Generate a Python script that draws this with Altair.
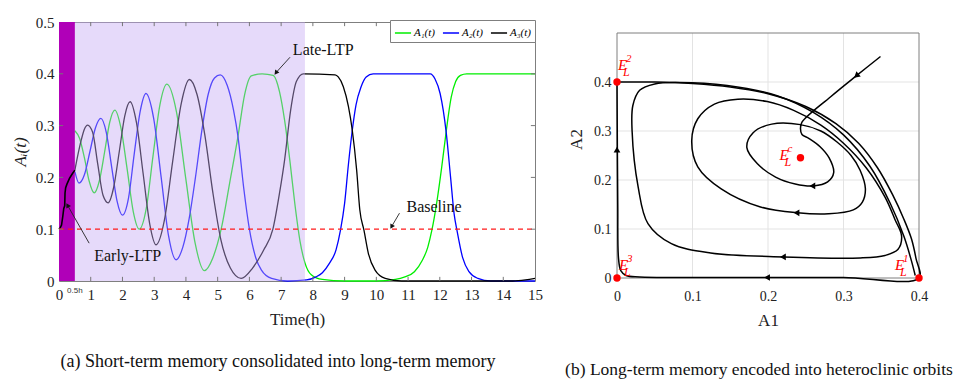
import altair as alt
import pandas as pd

SERIF = "Liberation Serif"

# ---------------- panel (a): time courses ----------------
A1_t = [0.5, 0.65, 0.8, 0.95, 1.11, 1.27, 1.44, 1.6, 1.76, 1.95, 2.15, 2.34, 2.53, 2.75, 2.96, 3.18, 3.40,
        3.70, 3.99, 4.29, 4.58, 4.85, 5.11, 5.38, 5.64, 5.85, 6.06, 6.4, 6.75, 6.95, 7.11, 7.28, 7.43, 7.6,
        7.75, 7.95, 8.3, 9.0, 10.0, 10.6, 10.9, 11.2, 11.45, 11.62, 11.75, 11.9, 12.06, 12.2, 12.36, 12.5,
        12.65, 12.85, 15.0]
A1_v = [0.29, 0.275, 0.238, 0.193, 0.17, 0.193, 0.25, 0.307, 0.33, 0.296, 0.215, 0.134, 0.10, 0.14, 0.24,
        0.34, 0.38, 0.327, 0.20, 0.073, 0.02, 0.045, 0.10, 0.19, 0.279, 0.36, 0.396, 0.40, 0.397, 0.365,
        0.31, 0.23, 0.15, 0.075, 0.035, 0.012, 0.003, 0.0, 0.0, 0.003, 0.008, 0.018, 0.04, 0.065, 0.098,
        0.15, 0.22, 0.288, 0.355, 0.385, 0.397, 0.40, 0.40]

A2_t = [0.5, 0.63, 0.8, 0.975, 1.15, 1.32, 1.49, 1.66, 1.83, 2.0, 2.19, 2.37, 2.56, 2.74, 2.98, 3.22, 3.45,
        3.69, 3.9, 4.1, 4.3, 4.5, 4.7, 4.9, 5.08, 5.3, 5.5, 5.64, 5.82, 6.0, 6.2, 6.38, 6.7, 7.2, 7.8, 8.1,
        8.3, 8.52, 8.73, 8.87, 9.0, 9.12, 9.24, 9.36, 9.52, 9.68, 9.9, 11.7, 11.85, 12.01, 12.2, 12.34,
        12.45, 12.55, 12.72, 12.92, 13.2, 13.6, 15.0]
A2_v = [0.211, 0.189, 0.205, 0.25, 0.296, 0.314, 0.287, 0.22, 0.154, 0.127, 0.16, 0.245, 0.328, 0.362,
        0.315, 0.2, 0.088, 0.041, 0.065, 0.12, 0.2, 0.29, 0.36, 0.392, 0.398, 0.378, 0.33, 0.279, 0.18,
        0.10, 0.045, 0.021, 0.005, 0.0, 0.002, 0.008, 0.016, 0.034, 0.06, 0.098, 0.15, 0.225, 0.29, 0.34,
        0.375, 0.394, 0.40, 0.40, 0.39, 0.362, 0.288, 0.2, 0.13, 0.095, 0.045, 0.018, 0.005, 0.0, 0.0]

A3_t = [0.5, 0.6, 0.7, 0.8, 0.9, 1.06, 1.22, 1.39, 1.55, 1.72, 1.9, 2.07, 2.24, 2.44, 2.65, 2.86, 3.06,
        3.32, 3.58, 3.85, 4.11, 4.35, 4.6, 4.85, 5.1, 5.4, 5.74, 6.1, 6.45, 6.74, 6.95, 7.11, 7.3, 7.48,
        7.7, 8.7, 8.8, 8.96, 9.12, 9.24, 9.38, 9.48, 9.61, 9.75, 9.96, 10.28, 10.8, 14.3, 14.7, 15.0]
A3_v = [0.214, 0.245, 0.272, 0.293, 0.301, 0.287, 0.226, 0.165, 0.151, 0.18, 0.25, 0.318, 0.346, 0.306,
        0.208, 0.11, 0.07, 0.117, 0.23, 0.342, 0.389, 0.36, 0.28, 0.17, 0.08, 0.025, 0.005, 0.025, 0.06,
        0.10, 0.17, 0.234, 0.33, 0.385, 0.40, 0.398, 0.394, 0.375, 0.337, 0.292, 0.214, 0.137, 0.098,
        0.053, 0.021, 0.005, 0.0, 0.0, 0.002, 0.005]

early_t = [0.0, 0.04, 0.08, 0.12, 0.15, 0.18, 0.19, 0.21, 0.25, 0.33, 0.42, 0.5]
early_v = [0.10, 0.103, 0.108, 0.125, 0.14, 0.145, 0.17, 0.18, 0.187, 0.198, 0.207, 0.214]

series_names = ["A\u2081(t)", "A\u2082(t)", "A\u2083(t)"]
series_colors = ["#00ee00", "#0000ff", "#000000"]

stim_start, stim_end = [0.0], [0.5]
window_start, window_end = [0.5], [7.75]
baseline_level = [0.1]

x_ticks_a = list(range(16))
y_ticks_a = [0, 0.1, 0.2, 0.3, 0.4, 0.5]

ann_text = ["Late-LTP", "Early-LTP", "Baseline"]
ann_t = [7.37, 1.11, 10.95]
ann_v = [0.446, 0.048, 0.143]
arrow_t0 = [7.28, 0.95, 10.73]
arrow_v0 = [0.432, 0.073, 0.131]
arrow_t1 = [6.85, 0.28, 10.49]
arrow_v1 = [0.403, 0.145, 0.106]
arrow_ang = [217, 330, 210]

# ---------------- panel (b): phase portrait ----------------
spiral_a1 = [0.349, 0.318, 0.283, 0.245, 0.243, 0.245, 0.254, 0.269, 0.281, 0.287, 0.279, 0.260, 0.236,
             0.210, 0.186, 0.172, 0.180, 0.205, 0.243, 0.270, 0.291, 0.310, 0.322, 0.329, 0.325, 0.313,
             0.280, 0.239, 0.190, 0.138, 0.107, 0.099, 0.107, 0.129, 0.160, 0.199, 0.234, 0.270, 0.300,
             0.330, 0.355, 0.368, 0.377, 0.372, 0.355, 0.322, 0.221, 0.124, 0.072, 0.041, 0.028, 0.020,
             0.021, 0.030, 0.050, 0.080, 0.146, 0.212, 0.260, 0.300, 0.335, 0.362, 0.380, 0.390, 0.395]
spiral_a2 = [0.452, 0.414, 0.370, 0.318, 0.305, 0.293, 0.285, 0.268, 0.245, 0.215, 0.196, 0.188, 0.192,
             0.206, 0.233, 0.266, 0.296, 0.314, 0.313, 0.300, 0.278, 0.250, 0.220, 0.182, 0.155, 0.139,
             0.131, 0.133, 0.145, 0.182, 0.227, 0.281, 0.325, 0.355, 0.365, 0.360, 0.342, 0.312, 0.275,
             0.225, 0.165, 0.120, 0.085, 0.058, 0.046, 0.041, 0.043, 0.051, 0.070, 0.111, 0.186, 0.300,
             0.352, 0.383, 0.396, 0.399, 0.393, 0.372, 0.338, 0.292, 0.228, 0.152, 0.085, 0.035, 0.005]

cycle_a1 = [0.000, 0.050, 0.100, 0.150, 0.200, 0.250, 0.290, 0.320, 0.345, 0.365, 0.380, 0.390, 0.396,
            0.400, 0.300, 0.200, 0.100, 0.030, 0.012, 0.005, 0.002, 0.001, 0.000]
cycle_a2 = [0.400, 0.400, 0.397, 0.390, 0.376, 0.350, 0.315, 0.275, 0.225, 0.170, 0.120, 0.080, 0.040,
            0.000, 0.001, 0.001, 0.001, 0.002, 0.005, 0.015, 0.040, 0.150, 0.400]

head_a1 = [0.318, 0.260, 0.239, 0.221, 0.200, 0.000]
head_a2 = [0.414, 0.188, 0.133, 0.043, 0.001, 0.260]
head_ang = [230, 270, 270, 270, 270, 0]

eq_a1 = [0.4, 0.0, 0.0, 0.243]
eq_a2 = [0.0, 0.4, 0.0, 0.2455]
eq_sup = ["1", "2", "3", "c"]

x_ticks_b = [0, 0.1, 0.2, 0.3, 0.4]
y_ticks_b = [0, 0.1, 0.2, 0.3, 0.4]
box_a1 = [0.0, 0.4]
box_a2 = [0.0, 0.5]

LABEL_EXPR = "datum.value === 0 ? '0' : format(datum.value, '.1f')"

# ================= build panel (a) =================
rows = []
for name, ts, vs in zip(series_names, [A1_t, A2_t, A3_t], [A1_v, A2_v, A3_v]):
    for k, (t, v) in enumerate(zip(ts, vs)):
        rows.append({"t": t, "A": v, "series": name, "k": k})
curves = pd.DataFrame(rows)
early = pd.DataFrame({"t": early_t, "A": early_v, "k": range(len(early_t))})

xs_a = alt.Scale(domain=[0, 15], nice=False, zero=False)
ys_a = alt.Scale(domain=[0, 0.5], nice=False, zero=False)

ax_ax = alt.Axis(values=x_ticks_a, title="Time(h)", labelFont=SERIF, titleFont=SERIF, labelFontSize=15,
                 titleFontSize=17, labelPadding=6, titlePadding=9, ticks=False, domain=False, grid=False,
                 labelFlush=False)
ax_ay = alt.Axis(values=y_ticks_a, labelExpr=LABEL_EXPR, title="A\u1d62(t)", titleFontStyle="italic",
                 labelFont=SERIF, titleFont=SERIF, titleFontSize=17, labelFontSize=15, labelPadding=5,
                 titlePadding=6, ticks=False, domain=False, grid=False, labelFlush=False)


def XA(f):
    return alt.X(f, type="quantitative", scale=xs_a, axis=ax_ax)


def YA(f):
    return alt.Y(f, type="quantitative", scale=ys_a, axis=ax_ay)


lines_a = alt.Chart(curves).mark_line(interpolate="monotone", strokeWidth=1.3).encode(
    x=XA("t"),
    y=YA("A"),
    color=alt.Color("series:N", scale=alt.Scale(domain=series_names, range=series_colors),
                    legend=alt.Legend(title=None, orient="none", legendX=331, legendY=-2,
                                      direction="horizontal",
                                      symbolType="stroke", symbolSize=260, symbolStrokeWidth=1.5,
                                      labelFont=SERIF, labelFontStyle="italic", labelFontSize=11,
                                      labelOffset=2, columnPadding=4, padding=4, fillColor="white",
                                      strokeColor="#7f7f7f")),
    order="k:Q",
)

window = alt.Chart(pd.DataFrame({"t0": window_start, "t1": window_end})).mark_rect(
    color="#c6aaf4", opacity=0.43).encode(x=XA("t0"), x2="t1", y=alt.value(0), y2=alt.value(259))

stim = alt.Chart(pd.DataFrame({"t0": stim_start, "t1": stim_end})).mark_rect(
    color="#b000b8").encode(x=XA("t0"), x2="t1", y=alt.value(0), y2=alt.value(259))

early_line = alt.Chart(early).mark_line(color="black", strokeWidth=1.6).encode(
    x=XA("t"), y=YA("A"), order="k:Q")

base = alt.Chart(pd.DataFrame({"b": baseline_level})).mark_rule(
    color="#ff1a1a", strokeDash=[5, 4], strokeWidth=1.3).encode(y=YA("b"), x=alt.value(0), x2=alt.value(476))

# inward tick marks (frame ticks)
tick_rows = []
for t in x_ticks_a[1:-1]:
    tick_rows.append({"x": t, "x2": t, "y": 0.0, "y2": 0.008})
    tick_rows.append({"x": t, "x2": t, "y": 0.492, "y2": 0.5})
for v in y_ticks_a[1:-1]:
    tick_rows.append({"x": 0.0, "x2": 0.13, "y": v, "y2": v})
    tick_rows.append({"x": 14.87, "x2": 15.0, "y": v, "y2": v})
ticks_a = alt.Chart(pd.DataFrame(tick_rows)).mark_rule(color="#777777", strokeWidth=1).encode(
    x=XA("x"), x2="x2", y=YA("y"), y2="y2")

ann = pd.DataFrame({"text": ann_text, "t": ann_t, "v": ann_v})
ann_marks = alt.Chart(ann).mark_text(font=SERIF, fontSize=16, align="left", baseline="middle",
                                     color="#111111").encode(x=XA("t"), y=YA("v"), text="text:N")
arrows = pd.DataFrame({"t0": arrow_t0, "v0": arrow_v0, "t1": arrow_t1, "v1": arrow_v1, "ang": arrow_ang})
arrow_lines = alt.Chart(arrows).mark_rule(color="#222222", strokeWidth=0.9).encode(
    x=XA("t0"), y=YA("v0"), x2="t1", y2="v1")
arrow_heads = alt.Chart(arrows).mark_point(shape="triangle", filled=True, color="#111111", size=28,
                                           opacity=1).encode(
    x=XA("t1"), y=YA("v1"), angle=alt.Angle("ang:Q", scale=None))

half_label = alt.Chart(pd.DataFrame({"t": stim_end, "v": [0.0], "text": ["0.5h"]})).mark_text(
    font="Liberation Sans", fontSize=8, dy=10, baseline="middle", color="#333333").encode(
    x=XA("t"), y=YA("v"), text="text:N")

panel_a = alt.layer(lines_a, window, stim, early_line, base, ticks_a, arrow_lines, arrow_heads,
                    ann_marks, half_label).properties(
    width=476, height=259,
    title=alt.TitleParams("(a)  Short-term memory consolidated into long-term memory", orient="bottom",
                          fontSize=18, font=SERIF, fontWeight="normal", offset=26, dx=-19, color="#111111"))

# ================= build panel (b) =================
orb_rows = []
for k, (a, b) in enumerate(zip(spiral_a1, spiral_a2)):
    orb_rows.append({"a1": a, "a2": b, "seg": "spiral", "k": k})
for k, (a, b) in enumerate(zip(cycle_a1, cycle_a2)):
    orb_rows.append({"a1": a, "a2": b, "seg": "cycle", "k": k})
orbits = pd.DataFrame(orb_rows)

PX_PER_UNIT_B = 490.0  # 0.1 of A2 spans 49 px
HEIGHT_B = 256
xs_b = alt.Scale(domain=[0, 0.4], nice=False, zero=False)
ys_b = alt.Scale(domain=[0, HEIGHT_B / PX_PER_UNIT_B], nice=False, zero=False)

ax_bx = alt.Axis(values=x_ticks_b, labelExpr=LABEL_EXPR, title="A1", labelFont=SERIF, titleFont=SERIF,
                 titleFontSize=17, labelFontSize=14, labelPadding=11, titlePadding=9,
                 ticks=False, domain=False, grid=False, labelFlush=False)
ax_by = alt.Axis(values=y_ticks_b, labelExpr=LABEL_EXPR, title="A2", labelFont=SERIF, titleFont=SERIF,
                 titleFontSize=17, labelFontSize=14, labelPadding=6, titlePadding=8, titleY=117,
                 ticks=False, domain=False, grid=False, labelFlush=False)


def XB(f):
    return alt.X(f, type="quantitative", scale=xs_b, axis=ax_bx)


def YB(f):
    return alt.Y(f, type="quantitative", scale=ys_b, axis=ax_by)


# light grid and the plot frame (frame top sits at A2 = 0.5)
grid_rows = []
for a in x_ticks_b[1:-1]:
    grid_rows.append({"x": a, "x2": a, "y": box_a2[0], "y2": box_a2[1]})
for b in y_ticks_b[1:]:
    grid_rows.append({"x": box_a1[0], "x2": box_a1[1], "y": b, "y2": b})
grid_b = alt.Chart(pd.DataFrame(grid_rows)).mark_rule(color="#e3e3e3", strokeWidth=1).encode(
    x=XB("x"), x2="x2", y=YB("y"), y2="y2")

frame_rows = [
    {"x": box_a1[0], "x2": box_a1[1], "y": box_a2[0], "y2": box_a2[0]},
    {"x": box_a1[0], "x2": box_a1[1], "y": box_a2[1], "y2": box_a2[1]},
    {"x": box_a1[0], "x2": box_a1[0], "y": box_a2[0], "y2": box_a2[1]},
    {"x": box_a1[1], "x2": box_a1[1], "y": box_a2[0], "y2": box_a2[1]},
]
frame_b = alt.Chart(pd.DataFrame(frame_rows)).mark_rule(color="#7f7f7f", strokeWidth=1).encode(
    x=XB("x"), x2="x2", y=YB("y"), y2="y2")

orbit_lines = alt.Chart(orbits).mark_line(interpolate="catmull-rom", color="black", strokeWidth=1.5).encode(
    x=XB("a1"), y=YB("a2"), detail="seg:N", order="k:Q")

heads = pd.DataFrame({"a1": head_a1, "a2": head_a2, "ang": head_ang})
orbit_heads = alt.Chart(heads).mark_point(shape="triangle", filled=True, color="black", size=45,
                                          opacity=1).encode(
    x=XB("a1"), y=YB("a2"), angle=alt.Angle("ang:Q", scale=None))

eq = pd.DataFrame({"a1": eq_a1, "a2": eq_a2, "sup": eq_sup, "E": ["E"] * 4, "L": ["L"] * 4})
eq_pts = alt.Chart(eq).mark_circle(color="#ff0000", size=55, opacity=1).encode(x=XB("a1"), y=YB("a2"))

# label offsets (pixels) for each equilibrium: (E dx, E dy)
label_offsets = [(-24, -8), (1, -12), (2, -8), (-21, 2)]
label_layers = []
for i, (dx, dy) in enumerate(label_offsets):
    sub = eq.iloc[[i]]
    label_layers.append(alt.Chart(sub).mark_text(font=SERIF, fontSize=15, fontStyle="italic", color="#ff0000",
                                                 align="left", baseline="alphabetic", dx=dx, dy=dy).encode(
        x=XB("a1"), y=YB("a2"), text="E:N"))
    label_layers.append(alt.Chart(sub).mark_text(font=SERIF, fontSize=11, fontStyle="italic", color="#ff0000",
                                                 align="left", baseline="alphabetic", dx=dx + 8, dy=dy - 8).encode(
        x=XB("a1"), y=YB("a2"), text="sup:N"))
    label_layers.append(alt.Chart(sub).mark_text(font=SERIF, fontSize=12, fontStyle="italic", color="#ff0000",
                                                 align="left", baseline="alphabetic", dx=dx + 5, dy=dy + 6).encode(
        x=XB("a1"), y=YB("a2"), text="L:N"))

panel_b = alt.layer(grid_b, frame_b, orbit_lines, orbit_heads, eq_pts, *label_layers).properties(
    width=302, height=HEIGHT_B, view=alt.ViewBackground(stroke="transparent"),
    title=alt.TitleParams("(b)  Long-term memory encoded into heteroclinic orbits", orient="bottom",
                          fontSize=17.5, font=SERIF, fontWeight="normal", offset=33, dx=-9, color="#111111"))

chart = alt.hconcat(panel_a, panel_b, spacing=19).properties(
    padding={"left": 2, "top": 6, "right": 0, "bottom": 0}
).configure_view(stroke="#7f7f7f", strokeWidth=1).configure_axis(
    labelFont=SERIF, titleFont=SERIF, titleFontWeight="normal", labelColor="#222222", titleColor="#222222"
).configure_title(font=SERIF)

chart.save("out.html", embed_options={"renderer": "svg", "actions": False})
